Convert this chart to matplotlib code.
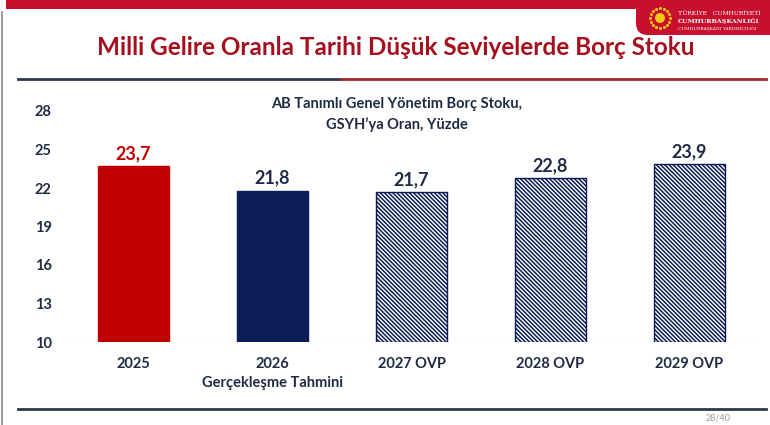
import matplotlib.pyplot as plt
from matplotlib.patches import Rectangle, FancyBboxPatch, Circle
import numpy as np

plt.rcParams['font.family'] = ['Lato', 'DejaVu Sans']

categories = ["2025", "2026\nGerçekleşme Tahmini", "2027 OVP", "2028 OVP", "2029 OVP"]
values = [23.7, 21.8, 21.7, 22.8, 23.9]
value_labels = ["23,7", "21,8", "21,7", "22,8", "23,9"]
yticks = [10, 13, 16, 19, 22, 25, 28]

red = "#c00000"
navy = "#0b1c56"
text_dark = "#1f2a44"

fig = plt.figure(figsize=(7.7, 4.25), dpi=100)

# background decorations in pixel coordinates
bg = fig.add_axes([0, 0, 1, 1], zorder=0)
bg.set_xlim(0, 770)
bg.set_ylim(425, 0)
bg.axis("off")

bg.add_patch(Rectangle((6, 0), 764, 9, color="#c8102e", lw=0))
bg.add_patch(FancyBboxPatch((636, -20), 150, 55, boxstyle="round,pad=0,rounding_size=12",
                            color="#c8102e", lw=0))
bg.plot([2, 2], [12, 425], color="#8a8a8a", lw=1.2)
bg.add_patch(Circle((660, 18), 5, color="#f5c518", lw=0))
for a in np.linspace(0, 2 * np.pi, 16, endpoint=False):
    bg.plot(660 + 10 * np.cos(a), 18 + 10 * np.sin(a), "o", color="#f5c518", ms=1.2)
bg.text(678, 13, "TÜRKİYE   CUMHURİYETİ", color="white", fontsize=4.3, family="DejaVu Serif",
        va="center")
bg.text(678, 21, "CUMHURBAŞKANLIĞI", color="white", fontsize=4.6, family="DejaVu Serif",
        va="center", fontweight="bold")
bg.text(678, 29, "CUMHURBAŞKANI YARDIMCILIĞI", color="white", fontsize=3.2,
        family="DejaVu Serif", va="center")

bg.text(396, 47, "Milli Gelire Oranla Tarihi Düşük Seviyelerde Borç Stoku",
        color="#a50f1e", fontsize=17.5, fontweight="bold", ha="center", va="center")
bg.plot([18, 340], [79, 79], color="#2e3a4c", lw=2)
bg.plot([340, 766], [79, 79], color="#a52a2a", lw=2)
bg.plot([18, 766], [409, 409], color="#2e3a4c", lw=2)
bg.text(718, 418, "28/40", color="#9a9a9a", fontsize=6.5, ha="center", va="center")

bg.text(397, 104, "AB Tanımlı Genel Yönetim Borç Stoku,", color=text_dark, fontsize=10.5,
        fontweight="bold", ha="center", va="center")
bg.text(397, 125, "GSYH’ya Oran, Yüzde", color=text_dark, fontsize=10.5,
        fontweight="bold", ha="center", va="center")

# chart
ax = fig.add_axes([60 / 770, 83 / 425, 700 / 770, 231 / 425], zorder=1)
ax.patch.set_alpha(0)
x = np.arange(len(categories))
plt.rcParams['hatch.linewidth'] = 1.1
plt.rcParams['hatch.color'] = navy
facecolors = [red, navy, "white", "white", "white"]
hatches = [None, None, "\\" * 8, "\\" * 8, "\\" * 8]
bars = ax.bar(x, [v - 10 for v in values], bottom=10, width=0.51, color=facecolors,
              edgecolor=[red, navy, navy, navy, navy], linewidth=1)
for b, h in zip(bars, hatches):
    if h:
        b.set_hatch(h)

for i, (v, lab) in enumerate(zip(values, value_labels)):
    ax.text(i, v + 0.3, lab, ha="center", va="bottom", fontsize=13, fontweight="bold",
            color=red if i == 0 else text_dark)

ax.axhline(10, color="#e6e6e6", lw=0.8, zorder=0)
ax.set_xlim(-0.529, 4.507)
ax.set_ylim(10, 28)
ax.set_yticks(yticks)
ax.set_xticks(x)
ax.set_xticklabels(categories, fontsize=10.5, fontweight="bold", color=text_dark,
                   linespacing=1.4, va="top")
ax.tick_params(axis="y", length=0, pad=6, labelsize=10.5, labelcolor=text_dark)
ax.tick_params(axis="x", length=0, pad=11)
for t in ax.get_yticklabels():
    t.set_fontweight("bold")
for s in ax.spines.values():
    s.set_visible(False)

fig.savefig("out.png", dpi=100)
